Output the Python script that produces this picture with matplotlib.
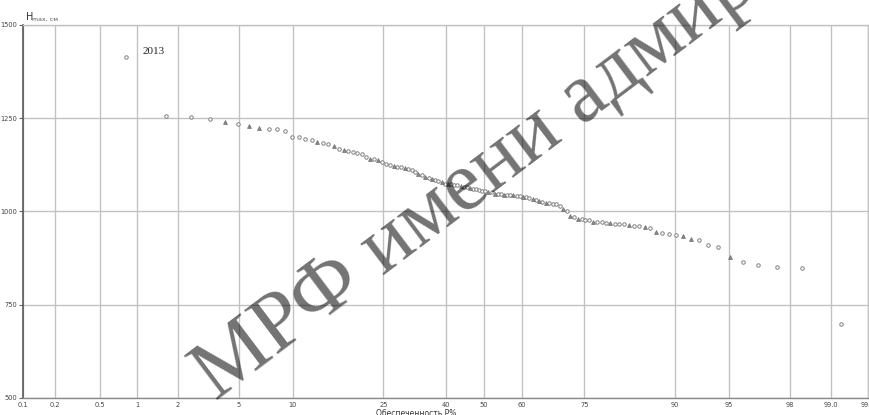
import numpy as np
import matplotlib
matplotlib.use("Agg")
import matplotlib.pyplot as plt
from statistics import NormalDist

# Annual maximum water levels, cm, ranked in descending order
h_max = [1415, 1256, 1253, 1247, 1241, 1234, 1229, 1223, 1221, 1220, 1217, 1201,
         1199, 1195, 1191, 1187, 1184, 1181, 1175, 1167, 1164, 1162, 1160, 1158,
         1153, 1147, 1142, 1140, 1137, 1134,
         1128, 1126, 1122, 1120, 1119, 1117, 1114, 1111, 1106, 1101, 1097, 1092,
         1089, 1087, 1084, 1081, 1078, 1075, 1074, 1073,
         1071, 1070, 1068, 1066, 1065, 1063, 1061, 1060, 1058, 1056, 1054, 1053,
         1051, 1048, 1047, 1046, 1045, 1045, 1044, 1043,
         1042, 1041, 1039, 1038, 1035, 1033, 1031, 1028, 1026, 1024, 1022, 1020,
         1019, 1016, 1006, 1000,
         988, 985, 980, 979, 977, 976, 973, 972, 971, 970, 968, 967, 967, 966,
         963, 962, 960, 958, 957, 946, 943, 940, 937, 935, 925, 924, 911, 904,
         879, 864, 857, 850, 848, 698]

# Ranks drawn with the triangle marker
triangle_ranks = [5, 7, 8, 16, 19, 21, 27, 29, 33, 36, 40, 42, 44, 47, 49, 53,
                  56, 62, 64, 67, 70, 73, 76, 78, 80, 85, 87, 89, 93, 97, 101,
                  104, 106, 110, 111, 115]

x_ticks = [0.1, 0.2, 0.5, 1, 2, 5, 10, 25, 40, 50, 60, 75, 90, 95, 98, 99.0, 99.5]
x_tick_labels = ["0.1", "0.2", "0.5", "1", "2", "5", "10", "25", "40", "50",
                 "60", "75", "90", "95", "98", "99.0", "99.5"]
y_ticks = [500, 750, 1000, 1250, 1500]

# Empirical exceedance probability (Weibull plotting position), %
n = len(h_max)
rank = np.arange(1, n + 1)
prob = rank / (n + 1) * 100.0
h = np.array(h_max, dtype=float)
is_tri = np.isin(rank, triangle_ranks)

# Normal-probability scale for the x axis
_nd = NormalDist()
_ppf = np.vectorize(_nd.inv_cdf, otypes=[float])
_cdf = np.vectorize(_nd.cdf, otypes=[float])


def fwd(p):
    p = np.clip(np.asarray(p, dtype=float) / 100.0, 1e-9, 1 - 1e-9)
    return _ppf(p)


def inv(z):
    return _cdf(np.asarray(z, dtype=float)) * 100.0


W, H = 869, 415
fig = plt.figure(figsize=(W / 100, H / 100), dpi=100)
fig.patch.set_facecolor("white")
ax = fig.add_axes([23 / W, 1 - 398 / H, (868 - 23) / W, (398 - 25) / H])
ax.set_xscale("function", functions=(fwd, inv))
ax.set_xlim(0.1, 99.5)
ax.set_ylim(500, 1500)

ax.set_xticks(x_ticks)
ax.set_xticklabels(x_tick_labels)
ax.set_yticks(y_ticks)
ax.minorticks_off()

grid_c = "#c2c2c2"
ax.grid(True, color=grid_c, lw=1.0)
ax.set_axisbelow(True)
for side in ("top", "right"):
    ax.spines[side].set_color(grid_c)
    ax.spines[side].set_linewidth(1.0)
ax.spines["left"].set_color("#5a5a5a")
ax.spines["left"].set_linewidth(1.2)
ax.spines["bottom"].set_color("#8a8a8a")
ax.spines["bottom"].set_linewidth(1.0)

ax.tick_params(axis="y", length=3, width=0.8, color="#666666",
               labelsize=4.8, labelcolor="#444444", pad=1.0)
ax.tick_params(axis="x", length=0, labelsize=4.8, labelcolor="#444444", pad=3)

ax.plot(prob[~is_tri], h[~is_tri], linestyle="none", marker="o",
        markersize=2.5, markerfacecolor="white", markeredgecolor="#808080",
        markeredgewidth=0.7, zorder=3)
ax.plot(prob[is_tri], h[is_tri], linestyle="none", marker="^",
        markersize=2.8, markerfacecolor="#8a8a8a", markeredgecolor="#6a6a6a",
        markeredgewidth=0.5, zorder=3)

# Axis captions
fig.text(26 / W, 1 - 17 / H, "H", fontsize=7, color="#333333",
         ha="left", va="center")
fig.text(32 / W, 1 - 19 / H, "max, см", fontsize=4.5, color="#555555",
         ha="left", va="center")
fig.text(416 / W, 1 - 409 / H, "Обеспеченность Р%", fontsize=5.5,
         color="#333333", ha="center", va="top")

# Year of the record maximum
fig.text(143 / W, 1 - 51 / H, "2013", fontsize=8, family="Liberation Serif",
         color="#222222", ha="left", va="center")

# Document watermark
fig.text(216 / W, 1 - 402 / H, "МРФ имени адмирала", fontsize=61,
         family="Liberation Serif", color="black", alpha=0.55,
         rotation=37, rotation_mode="anchor", ha="left", va="baseline",
         zorder=10)

fig.savefig("out.png", dpi=100, facecolor="white")
